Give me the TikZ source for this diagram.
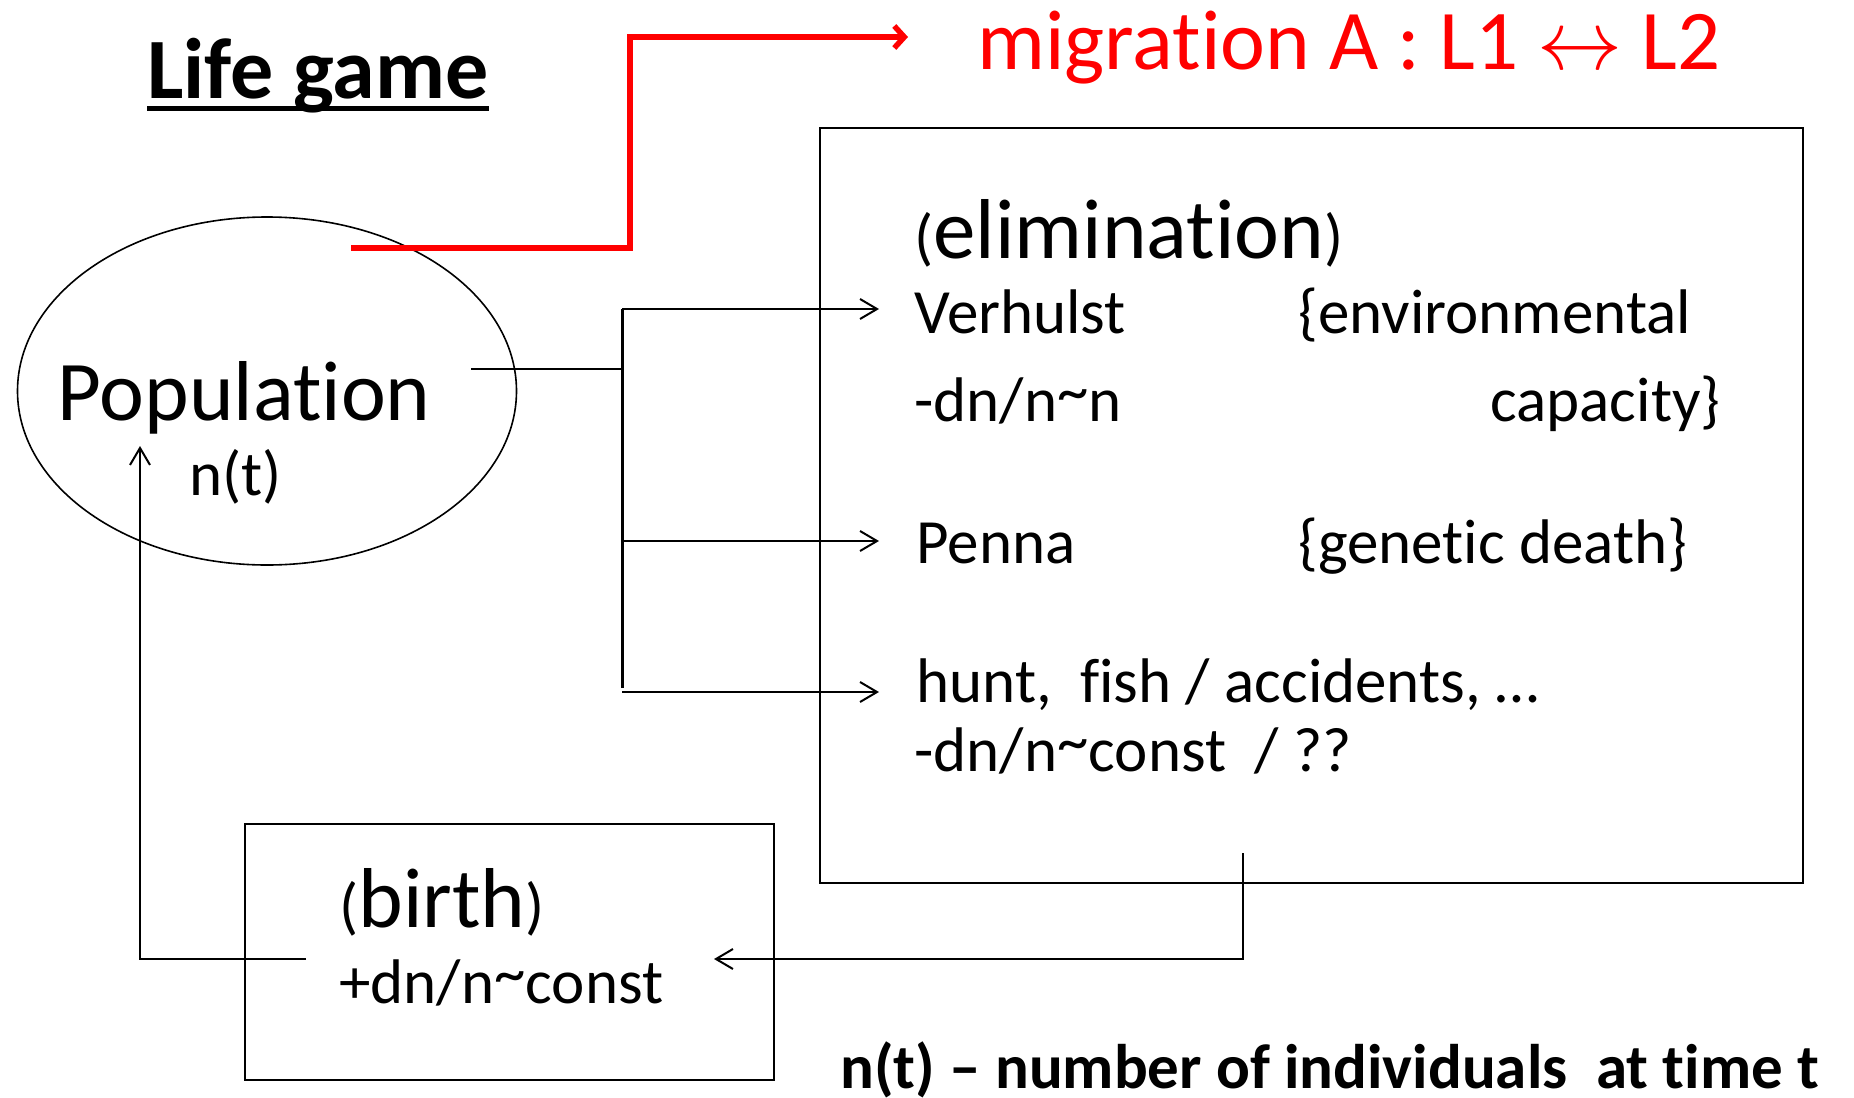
\RequirePackage{fix-cm}
\documentclass[tikz,border=0pt]{standalone}
\usepackage{fontspec}
\setmainfont{Carlito}[Ligatures={TeX,NoCommon},RawFeature={-liga;-clig;-calt}]
\usetikzlibrary{arrows.meta,shapes.geometric}

\newcommand{\smpar}[1]{{\fontsize{31.5}{38}\selectfont#1}}
\newcommand{\tld}{\raisebox{4.5pt}{\textasciitilde}}
\newcommand{\nolig}{\kern0pt }

\begin{document}
\begin{tikzpicture}[x=0.5pt,y=-0.5pt,
  big/.style={anchor=base west,inner sep=0pt,font=\fontsize{42.5}{51}\selectfont},
  small/.style={anchor=base west,inner sep=0pt,font=\fontsize{31.5}{38}\selectfont},
  line/.style={line width=1pt},
  link/.style={line width=1pt,-{Straight Barb[length=8.5pt,width=10pt]}},
  frame/.style={draw,line width=1.1pt,anchor=north west,inner sep=0pt}]
\useasboundingbox (0,0) rectangle (1854,1098);

\node[big,font=\bfseries\fontsize{43}{51}\selectfont] (title) at (147,98) {Life game};
\draw[line width=2.3pt] ([yshift=-5.3pt]title.base west) -- ([yshift=-5.3pt]title.base east);

\node[draw,ellipse,line width=0.8pt,minimum width=249.5pt,minimum height=174pt,inner sep=0pt] (pop) at (267,391) {};
\node[big] (poptxt) at (57,420) {Population};
\node[small] (popn) at (189,495) {n(t)};

% migration
\node[big,text=red] (mig) at (977,69) {migrat\nolig ion A : L1 $\leftrightarrow$ L2};
\coordinate (migS) at (351,248);
\coordinate (migC) at (630,248);
\coordinate (migA) at (908,37);
\draw[red,line width=2.75pt,-{Straight Barb[length=5pt 0,width=11pt 0]}] (migS) -- (migC) |- (migA);

\node[frame,minimum width=491.5pt,minimum height=377.5pt] (elim) at (819,127) {};
\node[big] (elimt) at (914,258) {\smpar(eliminat\nolig ion\smpar)};
\node[small] (verh) at (914,333) {Verhulst};
\node[small] (env) at (1298,333) {\{environmental};
\node[small] (verhr) at (914,421) {-dn/n\tld n};
\node[small] (cap) at (1490,421) {capacity\}};
\node[small] (penna) at (916,563) {Penna};
\node[small] (gen) at (1298,563) {\{genet\nolig ic death\}};
\node[small] (hunt) at (916,702) {hunt,\ \ fish / accidents, …};
\node[small] (huntr) at (914,771) {-dn/n\tld const\ \ / ??};

\node[frame,line width=1pt,minimum width=264.5pt,minimum height=128pt] (birth) at (244,823) {};
\node[big] (birtht) at (339,927) {\smpar(birth\smpar)};
\node[small] (birthr) at (339,1003) {+dn/n\tld const};

\node[small,font=\bfseries\fontsize{31.5}{38}\selectfont] (note) at (840,1088) {n(t) -- number of individuals\ \ at t\nolig ime t};

% elimination branches
\coordinate (popR) at (471,369);
\coordinate (fork) at (622,369);
\coordinate (forkT) at (622,309);
\coordinate (forkB) at (622,688);
\coordinate (toVerh) at (879,309);
\coordinate (toPenna) at (879,541);
\coordinate (huntS) at (622,692);
\coordinate (toHunt) at (879,692);
\draw[line] (popR) -- (fork);
\draw[line width=1.5pt] (forkT) -- (forkB);
\draw[link] (forkT) -- (toVerh);
\draw[link] (forkT |- toPenna) -- (toPenna);
\draw[link] (huntS) -- (toHunt);

% birth loop
\coordinate (elimOut) at (1243,853);
\coordinate (toBirth) at (714,959);
\coordinate (birthOut) at (306,959);
\coordinate (toPop) at (140,446);
\draw[link] (elimOut) |- (toBirth);
\draw[link] (birthOut) -| (toPop);
\end{tikzpicture}
\end{document}
